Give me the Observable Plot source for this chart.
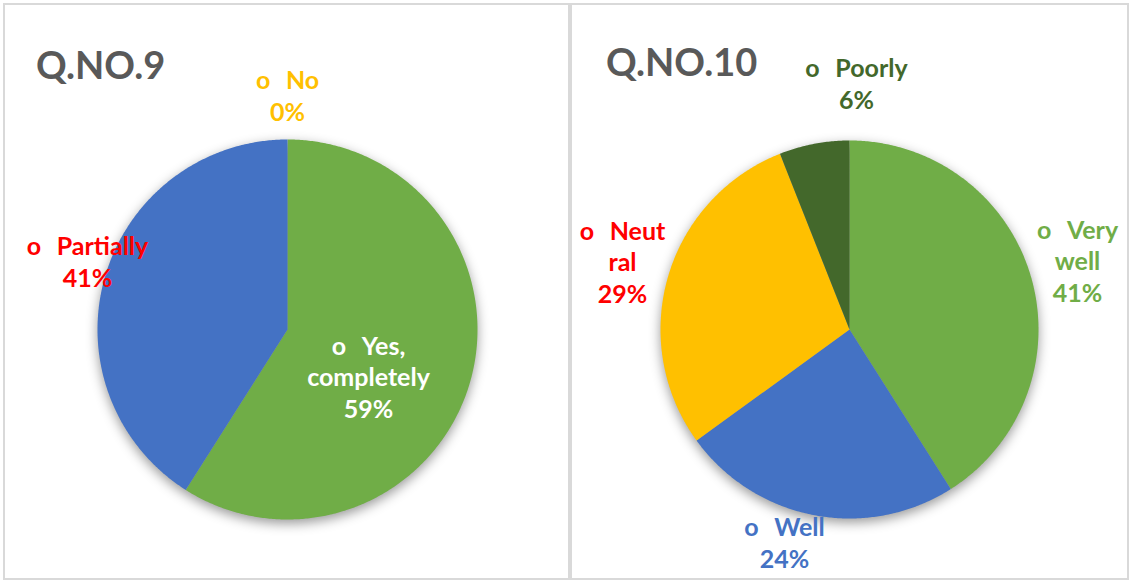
<!DOCTYPE html>
<html><head><meta charset="utf-8">
<script src="https://cdn.jsdelivr.net/npm/d3@7"></script>
<script src="https://cdn.jsdelivr.net/npm/@observablehq/plot@0.6"></script>
<style>
html,body{margin:0;padding:0;background:#fff;}
body{width:1129px;height:580px;position:relative;overflow:hidden;font-family:Lato,"Open Sans",sans-serif;}
.panel{position:absolute;border:2px solid #d9d9d9;box-sizing:border-box;}
.title{position:absolute;font-weight:bold;font-size:38px;color:#595959;line-height:1;white-space:nowrap;}
.chart{position:absolute;top:0;}
.chart g[aria-label="line"]{filter:drop-shadow(0px 4px 6px rgba(0,0,0,0.4));}
</style>
</head><body>
<div class="panel" style="left:3px;top:3px;width:567px;height:577px;"></div>
<div class="panel" style="left:570px;top:3px;width:559px;height:577px;"></div>
<div id="c1" class="chart" style="left:0px;"></div>
<div id="c2" class="chart" style="left:571px;"></div>
<div class="title" style="left:36px;top:45px;">Q.NO.9</div>
<div class="title" style="left:606px;top:42px;">Q.NO.10</div>
<script>
// ---- data ----
const q9Categories = ["Yes, completely", "Partially", "No"];
const q9Values = [59, 41, 0];
const q9LabelLines = ["Yes,\ncompletely", "Partially", "No"];

const q10Categories = ["Very well", "Well", "Neutral", "Poorly"];
const q10Values = [41, 24, 29, 6];
const q10LabelLines = ["Very\nwell", "Well", "Neut\nral", "Poorly"];

// ---- styles / layout ----
const q9Colors = ["#70AD47", "#4472C4", "#FFC000"];
const q9LabelColors = ["#ffffff", "#FF0000", "#FFC000"];
// label anchor (center x, last baseline y) in px relative to pie centre
const q9LabelPos = [[81, 88], [-200, -43], [0, -209]];

const q10Colors = ["#70AD47", "#4472C4", "#FFC000", "#43682B"];
const q10LabelColors = ["#70AD47", "#4472C4", "#FF0000", "#43682B"];
const q10LabelPos = [[228, -28], [-65, 238], [-227, -27], [7, -221]];

const R = 190;
const H = 580;
const GAP = "\u2002\u2009";

function pieChart({categories, values, lines, colors, labelColors, labelPos, width, cx, cy, r}) {
  const pie = d3.pie().sort(null).value(d => d.value).startAngle(0).endAngle(2 * Math.PI);
  const rows = categories.map((c, i) => ({category: c, value: values[i], i}));
  const arcs = pie(rows);
  const pts = [];
  for (const a of arcs) {
    const c = a.data.category;
    pts.push({category: c, x: 0, y: 0});
    const n = Math.max(1, Math.ceil((a.endAngle - a.startAngle) / (Math.PI / 360)));
    for (let k = 0; k <= n; k++) {
      const t = a.startAngle + (a.endAngle - a.startAngle) * k / n;
      pts.push({category: c, x: Math.sin(t), y: Math.cos(t)});
    }
    pts.push({category: c, x: 0, y: 0});
  }
  const labels = rows.map((d, i) => ({
    category: d.category,
    text: "o" + GAP + lines[i] + "\n" + d.value + "%",
    x: labelPos[i][0] / r,
    y: -labelPos[i][1] / r,
    color: labelColors[i]
  }));
  return Plot.plot({
    width, height: H,
    margin: 0,
    x: {domain: [-cx / r, (width - cx) / r], range: [0, width], axis: null},
    y: {domain: [-(H - cy) / r, cy / r], range: [H, 0], axis: null},
    color: {domain: categories, range: colors},
    style: {background: "transparent", overflow: "visible"},
    marks: [
      Plot.line(pts, {x: "x", y: "y", z: "category", fill: "category", stroke: null, curve: "linear"}),
      Plot.text(labels, {
        x: "x", y: "y", text: "text", fill: d => d.color,
        fontSize: 25, fontWeight: "bold", fontFamily: "Lato",
        lineAnchor: "bottom", lineHeight: 1.25, textAnchor: "middle"
      })
    ]
  });
}

document.getElementById("c1").append(pieChart({
  categories: q9Categories, values: q9Values, lines: q9LabelLines,
  colors: q9Colors, labelColors: q9LabelColors, labelPos: q9LabelPos,
  width: 569, cx: 287, cy: 329, r: R
}));
document.getElementById("c2").append(pieChart({
  categories: q10Categories, values: q10Values, lines: q10LabelLines,
  colors: q10Colors, labelColors: q10LabelColors, labelPos: q10LabelPos,
  width: 558, cx: 278, cy: 329, r: 189
}));
</script>
</body></html>
